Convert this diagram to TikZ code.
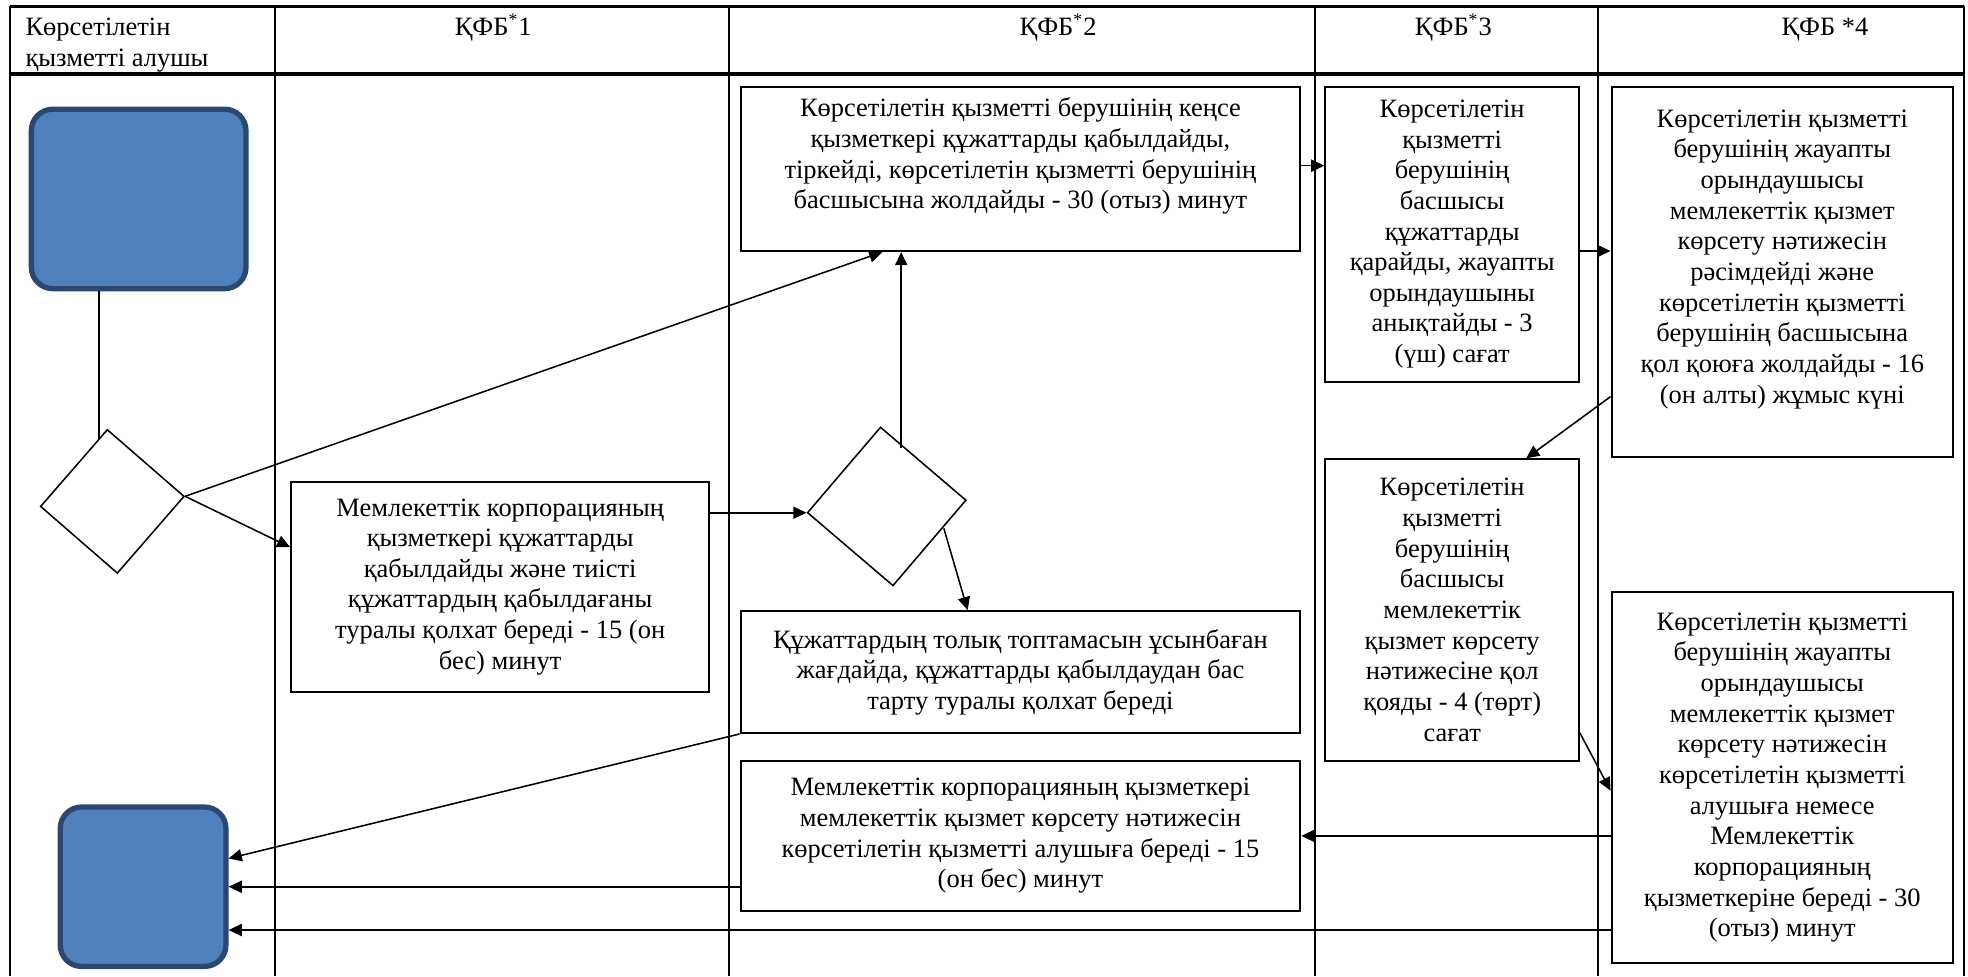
\documentclass[tikz,border=0pt]{standalone}
\usepackage{fontspec}
\setmainfont{Liberation Serif}
\usetikzlibrary{arrows.meta,shapes.geometric}
\definecolor{termfill}{HTML}{4F81BD}
\definecolor{termline}{HTML}{2C4770}
\tikzset{
    stepbox/.style={draw, line width=0.9pt, align=center},
    term/.style={draw=termline, fill=termfill, line width=2.4pt, rounded corners=3.4mm},
    rhomb/.style={draw, shape=diamond, line width=0.7pt},
    arr/.style={line width=0.7pt, -{Triangle[length=6pt,width=5.5pt]}},
    lane/.style={line width=0.9pt}}

\begin{document}
\begin{tikzpicture}[x=0.2mm, y=-0.2mm,
    every node/.style={font=\fontsize{12}{13.9}\selectfont, inner sep=0pt}]
    \useasboundingbox (0,0) rectangle (1568,778);
    % table
    \draw [lane, line width=1.5pt] (8,5) -- (1565,5);
    \draw [lane, line width=1.5pt] (8,59) -- (1565,59);
    \draw [lane] (8,5) -- (8,778);
    \draw [lane] (219,5) -- (219,778);
    \draw [lane] (581,5) -- (581,778);
    \draw [lane] (1048,5) -- (1048,778);
    \draw [lane] (1273,5) -- (1273,778);
    \draw [lane] (1565,5) -- (1565,778);
    \node [anchor=north west, align=left] (l0) at (20,14) {Көрсетілетін\\қызметті алушы};
    \node [anchor=base] (l1) at (393,28) {ҚФБ\textsuperscript{*}1};
    \node [anchor=base] (l2) at (843,28) {ҚФБ\textsuperscript{*}2};
    \node [anchor=base] (l3) at (1158,28) {ҚФБ\textsuperscript{*}3};
    \node [anchor=base] (l4) at (1454,28) {ҚФБ *4};
    % shapes
    \node [term, minimum width=171*0.2mm, minimum height=143*0.2mm] (s) at (110.5,158.5) {};
    \node [term, minimum width=132*0.2mm, minimum height=127*0.2mm] (t) at (114,706.5) {};
    \node [rhomb, minimum width=115*0.2mm, minimum height=115*0.2mm, rotate=4] (p) at (89.5,399.5) {};
    \node [rhomb, minimum width=127*0.2mm, minimum height=127*0.2mm, rotate=4.5] (q) at (706.5,403.5) {};
    \node [stepbox, minimum width=446*0.2mm, minimum height=131*0.2mm] (a) at (813,134.5) {Көрсетілетін қызметті берушінің кеңсе\\ қызметкері құжаттарды қабылдайды,\\ тіркейді, көрсетілетін қызметті берушінің\\ басшысына жолдайды - 30 (отыз) минут\\ \mbox{}};
    \node [stepbox, minimum width=333*0.2mm, minimum height=167*0.2mm] (b) at (398.5,467.5) {Мемлекеттік корпорацияның\\ қызметкері құжаттарды\\ қабылдайды және тиісті\\ құжаттардың қабылдағаны\\ туралы қолхат береді - 15 (он\\ бес) минут};
    \node [stepbox, minimum width=446*0.2mm, minimum height=97*0.2mm] (c) at (813,535.5) {Құжаттардың толық топтамасын ұсынбаған\\ жағдайда, құжаттарды қабылдаудан бас\\ тарту туралы қолхат береді};
    \node [stepbox, minimum width=202*0.2mm, minimum height=235*0.2mm] (d) at (1157,186.5) {Көрсетілетін\\ қызметті\\ берушінің\\ басшысы\\ құжаттарды\\ қарайды, жауапты\\ орындаушыны\\ анықтайды - 3\\ (үш) сағат};
    \node [stepbox, minimum width=272*0.2mm, minimum height=295*0.2mm] (e) at (1420,216.5) {Көрсетілетін қызметті\\ берушінің жауапты\\ орындаушысы\\ мемлекеттік қызмет\\ көрсету нәтижесін\\ рәсімдейді және\\ көрсетілетін қызметті\\ берушінің басшысына\\ қол қоюға жолдайды - 16\\ (он алты) жұмыс күні\\ \mbox{}};
    \node [stepbox, minimum width=446*0.2mm, minimum height=120*0.2mm] (f) at (813,666) {Мемлекеттік корпорацияның қызметкері\\ мемлекеттік қызмет көрсету нәтижесін\\ көрсетілетін қызметті алушыға береді - 15\\ (он бес) минут};
    \node [stepbox, minimum width=202*0.2mm, minimum height=240*0.2mm] (g) at (1157,486) {Көрсетілетін\\ қызметті\\ берушінің\\ басшысы\\ мемлекеттік\\ қызмет көрсету\\ нәтижесіне қол\\ қояды - 4 (төрт)\\ сағат};
    \node [stepbox, minimum width=272*0.2mm, minimum height=295*0.2mm] (h) at (1420,619.5) {Көрсетілетін қызметті\\ берушінің жауапты\\ орындаушысы\\ мемлекеттік қызмет\\ көрсету нәтижесін\\ көрсетілетін қызметті\\ алушыға немесе\\ Мемлекеттік\\ корпорацияның\\ қызметкеріне береді - 30\\ (отыз) минут};
    % connectors
    \coordinate (pin) at (79,350);
    \coordinate (qup) at (718,357);
    \coordinate (qdn) at (752,421);
    \draw [line width=0.7pt] (s.south -| pin) -- (pin);
    \draw [arr] (p.east) -- (a.south -| 703,0);
    \draw [arr] (p.east) -- (b.west |- 0,436);
    \draw [arr] (b.east |- q.west) -- (q.west);
    \draw [arr] (qup) -- (qup |- a.south);
    \draw [arr] (qdn) -- (c.north -| 771,0);
    \draw [arr] (a.east |- 0,132) -- (d.west |- 0,132);
    \draw [arr] (d.east |- 0,200) -- (e.west |- 0,200);
    \draw [arr] (e.west |- 0,316) -- (g.north -| 1216,0);
    \draw [arr] (g.east |- 0,584) -- (h.west |- 0,630);
    \draw [arr] (h.west |- f.east) -- (f.east);
    \draw [arr] (c.south west) -- (t.east |- 0,684);
    \draw [arr] (f.west |- t.east) -- (t.east);
    \draw [arr] (h.west |- 0,741) -- (t.east |- 0,741);
\end{tikzpicture}
\end{document}
